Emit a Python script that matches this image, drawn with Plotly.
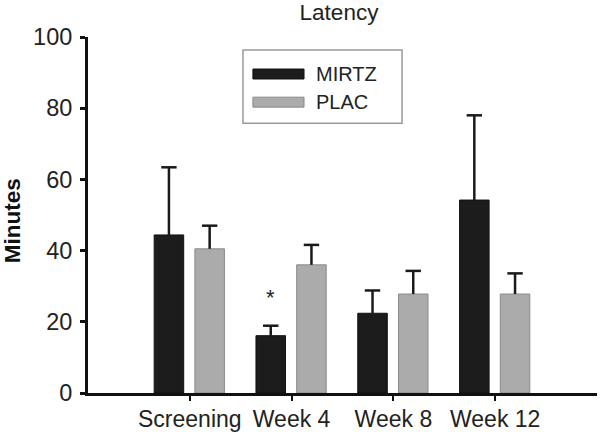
import plotly.graph_objects as go

categories = ["Screening", "Week 4", "Week 8", "Week 12"]
mirtz_mean = [44.4, 16.1, 22.4, 54.2]
mirtz_err = [19.0, 2.8, 6.4, 23.8]
plac_mean = [40.5, 36.0, 27.8, 27.8]
plac_err = [6.5, 5.6, 6.5, 5.8]
series_names = ["MIRTZ", "PLAC"]
y_ticks = [0, 20, 40, 60, 80, 100]

FONT = "Liberation Sans, Arial, sans-serif"
DARK = "#1c1c1c"
GRAY = "#ababab"
TXT = "#222222"

pos = list(range(len(categories)))
BAR_W = 0.29
OFF_M = -0.35   # left edge offset of MIRTZ bar from category centre
OFF_P = 0.05    # left edge offset of PLAC bar from category centre

fig = go.Figure()
for means, errs, name, col, lcol, off in [
    (mirtz_mean, mirtz_err, series_names[0], DARK, "#111111", OFF_M),
    (plac_mean, plac_err, series_names[1], GRAY, "#8a8a8a", OFF_P),
]:
    fig.add_trace(go.Bar(
        x=pos, y=means, name=name, width=BAR_W, offset=off,
        marker=dict(color=col, line=dict(color=lcol, width=1)),
        error_y=dict(type="data", array=errs, arrayminus=[0] * len(errs), symmetric=False,
                     color="#1a1a1a", thickness=2.5, width=0),
        showlegend=False,
    ))
    # error bar caps
    fig.add_trace(go.Scatter(
        x=[p + off + BAR_W / 2 for p in pos],
        y=[m + e for m, e in zip(means, errs)],
        mode="markers",
        marker=dict(symbol="line-ew", size=11, line=dict(color="#1a1a1a", width=2.5)),
        showlegend=False, hoverinfo="skip",
    ))

# significance marker
fig.add_annotation(x=pos[1] + OFF_M + BAR_W / 2, y=mirtz_mean[1] + mirtz_err[1] + 8,
                   text="*", showarrow=False, font=dict(family=FONT, size=22, color=TXT),
                   yanchor="middle")

# manual legend (box + swatches + labels)
shapes = [
    dict(type="rect", xref="paper", yref="paper", x0=0.3045, x1=0.617, y0=0.758, y1=0.9635,
         line=dict(color="#9a9a9a", width=1.5), fillcolor="white"),
    dict(type="rect", xref="paper", yref="paper", x0=0.324, x1=0.4244, y0=0.882, y1=0.910,
         line=dict(color="#111", width=1), fillcolor=DARK),
    dict(type="rect", xref="paper", yref="paper", x0=0.324, x1=0.4244, y0=0.803, y1=0.831,
         line=dict(color="#8a8a8a", width=1), fillcolor=GRAY),
]
fig.add_annotation(xref="paper", yref="paper", x=0.444, y=0.896, text=series_names[0],
                   showarrow=False, xanchor="left", yanchor="middle",
                   font=dict(family=FONT, size=20, color=TXT))
fig.add_annotation(xref="paper", yref="paper", x=0.444, y=0.817, text=series_names[1],
                   showarrow=False, xanchor="left", yanchor="middle",
                   font=dict(family=FONT, size=20, color=TXT))

# y-axis title
fig.add_annotation(xref="paper", yref="paper", x=-0.149, y=0.483, text="<b>Minutes</b>",
                   textangle=-90, showarrow=False, xanchor="center", yanchor="middle",
                   font=dict(family=FONT, size=22.5, color="#111"))

fig.update_layout(
    width=600, height=432,
    margin=dict(l=88, r=3, t=37, b=39),
    paper_bgcolor="white", plot_bgcolor="white",
    shapes=shapes,
    font=dict(family=FONT, size=23, color=TXT),
    title=dict(text="Latency", x=0.565, xanchor="center", y=0.972, yanchor="middle",
               font=dict(family=FONT, size=22.5, color=TXT)),
)
fig.update_xaxes(
    range=[-1, 4], tickvals=pos, ticktext=categories, showgrid=False, zeroline=False,
    showline=True, linecolor="#111", linewidth=3,
    ticks="outside", ticklen=5, tickwidth=2, tickcolor="#111",
    tickfont=dict(family=FONT, size=23, color=TXT), ticklabelstandoff=-2,
    automargin=False,
)
fig.update_yaxes(
    range=[0, 100], tickvals=y_ticks, showgrid=False, zeroline=False,
    showline=True, linecolor="#111", linewidth=3,
    ticks="outside", ticklen=5, tickwidth=2.5, tickcolor="#111",
    tickfont=dict(family=FONT, size=23.5, color=TXT), ticklabelstandoff=3,
    automargin=False,
)

fig.write_html("out.html", config={"displayModeBar": False},
               post_script="document.body.style.margin='0';")
